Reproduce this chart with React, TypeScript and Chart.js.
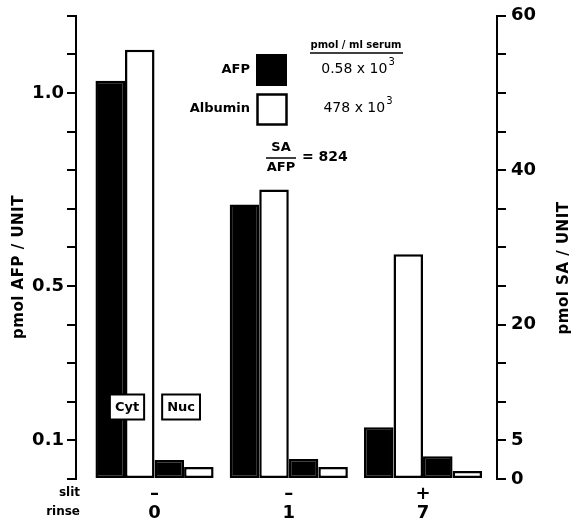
import React, { useEffect, useRef } from "react";
import { Chart, registerables } from "chart.js";

Chart.register(...registerables);

// ---- data ----
const rinseGroups = ["0", "1", "7"];
const slitMarks = ["\u2013", "\u2013", "+"];
const afpCyt = [1.032, 0.711, 0.134];
const saCyt = [55.6, 37.5, 29.1];
const afpNuc = [0.049, 0.052, 0.059];
const saNuc = [1.55, 1.55, 1.03];
const leftTickLabels = [0.1, 0.5, 1.0];
const rightTickLabels = [0, 5, 20, 40, 60];
const legendNames = ["AFP", "Albumin"];
const serumValues = ["0.58 x 10", "478 x 10"];
const ratioValue = "824";
const leftTitle = "pmol AFP / UNIT";
const rightTitle = "pmol SA / UNIT";

const FONT = '"DejaVu Sans", sans-serif';

const annotations = {
  id: "annotations",
  afterDraw(chart: any) {
    const ctx = chart.ctx as CanvasRenderingContext2D;
    ctx.save();
    ctx.fillStyle = "#000";
    ctx.strokeStyle = "#000";

    // axis titles (both read bottom-to-top)
    const vtitle = (text: string, x: number, y: number) => {
      ctx.save();
      ctx.translate(x, y);
      ctx.rotate(-Math.PI / 2);
      ctx.textAlign = "center";
      ctx.textBaseline = "middle";
      ctx.font = `bold 15px ${FONT}`;
      (ctx as any).letterSpacing = "0.5px";
      ctx.fillText(text, 0, 0);
      ctx.restore();
    };
    vtitle(leftTitle, 19, 267);
    vtitle(rightTitle, 564, 268);

    // legend
    ctx.font = `bold 13px ${FONT}`;
    ctx.textAlign = "right";
    ctx.textBaseline = "middle";
    ctx.fillText(legendNames[0], 250, 70);
    ctx.fillText(legendNames[1], 250, 109);
    ctx.fillRect(256, 54, 31, 32);
    ctx.lineWidth = 2.5;
    ctx.strokeRect(257.5, 94.5, 29, 30);

    // serum header
    ctx.textAlign = "center";
    ctx.font = `bold 10px ${FONT}`;
    ctx.fillText("pmol / ml serum", 356, 45);
    ctx.lineWidth = 1.5;
    ctx.beginPath();
    ctx.moveTo(310, 53);
    ctx.lineTo(403, 53);
    ctx.stroke();

    const sup = (base: string, cx: number, y: number) => {
      ctx.font = `14px ${FONT}`;
      const w = ctx.measureText(base).width;
      ctx.font = `10px ${FONT}`;
      const ws = ctx.measureText("3").width;
      const x0 = cx - (w + ws + 1) / 2;
      ctx.textAlign = "left";
      ctx.font = `14px ${FONT}`;
      ctx.fillText(base, x0, y);
      ctx.font = `10px ${FONT}`;
      ctx.fillText("3", x0 + w + 1, y - 7);
    };
    sup(serumValues[0], 358, 69);
    sup(serumValues[1], 358, 108);

    // SA / AFP ratio
    ctx.textAlign = "center";
    ctx.font = `bold 13px ${FONT}`;
    ctx.fillText("SA", 281, 148);
    ctx.fillText("AFP", 281, 168);
    ctx.lineWidth = 1.5;
    ctx.beginPath();
    ctx.moveTo(266, 158);
    ctx.lineTo(296, 158);
    ctx.stroke();
    ctx.textAlign = "left";
    ctx.font = `bold 14px ${FONT}`;
    ctx.fillText("= " + ratioValue, 302, 157);

    // Cyt / Nuc boxes anchored on first group bars
    const m = (i: number) => chart.getDatasetMeta(i).data[0];
    const cytX = (m(0).x + m(1).x) / 2;
    const nucX = (m(2).x + m(3).x) / 2;
    const box = (text: string, cx: number, cy: number) => {
      ctx.font = `bold 13px ${FONT}`;
      const w = ctx.measureText(text).width + 10;
      const h = 25;
      ctx.fillStyle = "#fff";
      ctx.fillRect(cx - w / 2, cy - h / 2, w, h);
      ctx.fillStyle = "#000";
      ctx.lineWidth = 2;
      ctx.strokeRect(cx - w / 2, cy - h / 2, w, h);
      ctx.textAlign = "center";
      ctx.textBaseline = "middle";
      ctx.fillText(text, cx, cy + 1);
    };
    box("Cyt", cytX + 2, 407);
    box("Nuc", nucX - 3, 407);

    // slit / rinse row labels
    ctx.font = `bold 12px ${FONT}`;
    ctx.textAlign = "right";
    ctx.textBaseline = "middle";
    ctx.fillText("slit", 80, 493);
    ctx.fillText("rinse", 80, 512);

    ctx.restore();
  },
};

const near = (v: number, arr: number[]) => arr.some((a) => Math.abs(a - v) < 1e-6);

export default function App() {
  const ref = useRef<HTMLCanvasElement | null>(null);

  useEffect(() => {
    document.body.style.margin = "0";
    const canvas = ref.current;
    if (!canvas) return;
    const labels = rinseGroups.map((g, i) => [slitMarks[i], g]);
    const common = {
      borderColor: "#000",
      borderWidth: 2.5,
      borderSkipped: false,
      categoryPercentage: 0.88,
      barPercentage: 1.0,
    };
    const chart = new Chart(canvas, {
      type: "bar",
      data: {
        labels,
        datasets: [
          { label: "AFP Cyt", data: afpCyt, backgroundColor: "#000", yAxisID: "yL", ...common },
          { label: "SA Cyt", data: saCyt, backgroundColor: "#fff", yAxisID: "yR", ...common },
          { label: "AFP Nuc", data: afpNuc, backgroundColor: "#000", yAxisID: "yL", ...common },
          { label: "SA Nuc", data: saNuc, backgroundColor: "#fff", yAxisID: "yR", ...common },
        ] as any,
      },
      options: {
        animation: false,
        responsive: false,
        layout: { padding: { top: 15, left: 0, right: 0, bottom: 0 } },
        plugins: { legend: { display: false }, tooltip: { enabled: false } },
        scales: {
          x: {
            type: "category",
            offset: true,
            grid: { display: false, drawTicks: false },
            border: { display: false },
            ticks: {
              color: "#000",
              font: { family: FONT, size: 18, lineHeight: 1.05, weight: "bold" },
              padding: 6,
              maxRotation: 0,
              autoSkip: false,
            },
            afterFit: (s: any) => {
              s.height = 41;
            },
            afterBuildTicks: (s: any) => {
              s._startValue = -0.585;
              s._valueRange = 3.136;
            },
          },
          yL: {
            type: "linear",
            position: "left",
            min: 0,
            max: 1.2,
            grid: { drawOnChartArea: false, drawTicks: true, tickLength: 9, color: "#000", lineWidth: 2 },
            border: { display: true, color: "#000", width: 2 },
            ticks: {
              stepSize: 0.1,
              color: "#000",
              padding: 3,
              font: { family: FONT, size: 18, weight: "bold" },
              callback: (v: any) => (near(Number(v), leftTickLabels) ? Number(v).toFixed(1) : ""),
            },
            afterFit: (s: any) => {
              s.width = 76;
            },
          },
          yR: {
            type: "linear",
            position: "right",
            min: 0,
            max: 60,
            grid: { drawOnChartArea: false, drawTicks: true, tickLength: 9, color: "#000", lineWidth: 2 },
            border: { display: true, color: "#000", width: 2 },
            ticks: {
              stepSize: 5,
              color: "#000",
              padding: 5,
              font: { family: FONT, size: 18, weight: "bold" },
              callback: (v: any) => (near(Number(v), rightTickLabels) ? String(v) : ""),
            },
            afterFit: (s: any) => {
              s.width = 79;
            },
          },
        },
      } as any,
      plugins: [annotations],
    });
    return () => chart.destroy();
  }, []);

  return (
    <div style={{ position: "fixed", left: 0, top: 0, width: 576, height: 520, background: "#fff" }}>
      <canvas ref={ref} width={576} height={520} />
    </div>
  );
}
